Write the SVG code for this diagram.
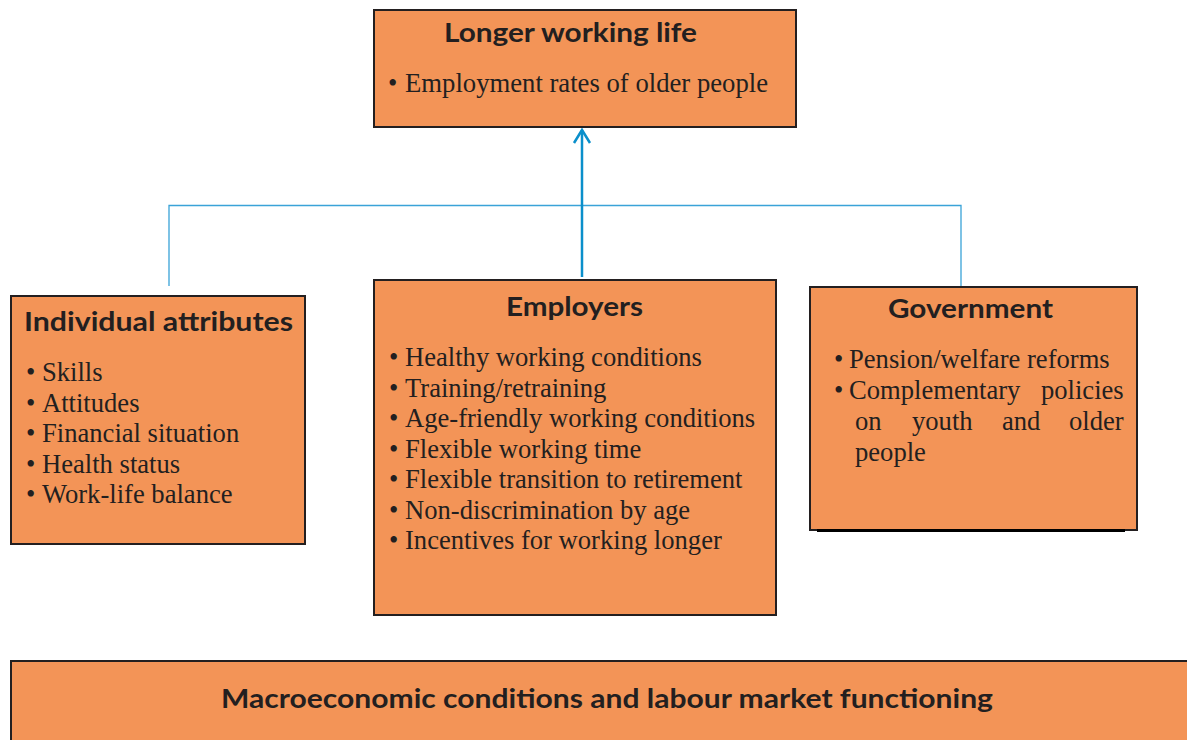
<svg xmlns="http://www.w3.org/2000/svg" width="1187" height="740" viewBox="0 0 1187 740">
<style>
.box{fill:#F39457;stroke:#231F20;stroke-width:2}
.ttl{font-family:Lato,"Open Sans",sans-serif;font-weight:bold;font-size:27px;fill:#231F20}
.itm{font-family:"Liberation Serif","Times New Roman",serif;font-size:26.6px;fill:#231F20}
.thin{stroke:#3AA3D8;stroke-width:1.3;fill:none}
.main{stroke:#0A8FCB;stroke-width:2.5;fill:none}
</style>
<defs>
<marker id="arr" markerUnits="userSpaceOnUse" markerWidth="20" markerHeight="24" refX="16" refY="12" orient="auto" viewBox="0 0 20 24">
<path d="M3,4 L16,12 L3,20" fill="none" stroke="#0A8FCB" stroke-width="2.5"/>
</marker>
</defs>
<rect width="1187" height="740" fill="#fff"/>
<g id="connectors">
<path class="thin" d="M169,286 V205.5 H961 V286"/>
<line class="main" x1="582" y1="277" x2="582" y2="130" marker-end="url(#arr)"/>
</g>
<g id="longer-working-life">
<rect class="box" x="374" y="10" width="422" height="117"/>
<text class="ttl" x="444" y="42" textLength="253" lengthAdjust="spacingAndGlyphs">Longer working life</text>
<text class="itm" x="388" y="92">• <tspan x="405" textLength="363" lengthAdjust="spacingAndGlyphs">Employment rates of older people</tspan></text>
</g>
<g id="individual-attributes">
<rect class="box" x="11" y="296" width="294" height="248"/>
<text class="ttl" x="24" y="331" textLength="269" lengthAdjust="spacingAndGlyphs">Individual attributes</text>
<text class="itm" x="26" y="381">• <tspan x="42">Skills</tspan></text>
<text class="itm" x="26" y="411.5">• <tspan x="42">Attitudes</tspan></text>
<text class="itm" x="26" y="442">• <tspan x="42">Financial situation</tspan></text>
<text class="itm" x="26" y="472.5">• <tspan x="42">Health status</tspan></text>
<text class="itm" x="26" y="503">• <tspan x="42">Work-life balance</tspan></text>
</g>
<g id="employers">
<rect class="box" x="374" y="280" width="402" height="335"/>
<text class="ttl" x="506" y="316" textLength="137" lengthAdjust="spacingAndGlyphs">Employers</text>
<text class="itm" x="389" y="366">• <tspan x="405">Healthy working conditions</tspan></text>
<text class="itm" x="389" y="396.5">• <tspan x="405">Training/retraining</tspan></text>
<text class="itm" x="389" y="427">• <tspan x="405">Age-friendly working conditions</tspan></text>
<text class="itm" x="389" y="457.5">• <tspan x="405">Flexible working time</tspan></text>
<text class="itm" x="389" y="488">• <tspan x="405">Flexible transition to retirement</tspan></text>
<text class="itm" x="389" y="518.5">• <tspan x="405">Non-discrimination by age</tspan></text>
<text class="itm" x="389" y="549">• <tspan x="405">Incentives for working longer</tspan></text>
</g>
<g id="government">
<rect class="box" x="810" y="287" width="327" height="243"/>
<line x1="817" y1="530.5" x2="1125" y2="530.5" stroke="#000" stroke-width="3"/>
<text class="ttl" x="888" y="318" textLength="165" lengthAdjust="spacingAndGlyphs">Government</text>
<text class="itm" x="834" y="368">• <tspan x="849">Pension/welfare reforms</tspan></text>
<text class="itm" x="834" y="399">• <tspan x="849">Complementary</tspan><tspan x="1041">policies</tspan></text>
<text class="itm" y="430"><tspan x="855">on</tspan><tspan x="912">youth</tspan><tspan x="1002">and</tspan><tspan x="1069">older</tspan></text>
<text class="itm" x="855" y="461">people</text>
</g>
<g id="macroeconomic-conditions">
<rect class="box" x="11" y="661" width="1190" height="90"/>
<text class="ttl" x="221" y="708" textLength="772" lengthAdjust="spacingAndGlyphs">Macroeconomic conditions and labour market functioning</text>
</g>
</svg>
